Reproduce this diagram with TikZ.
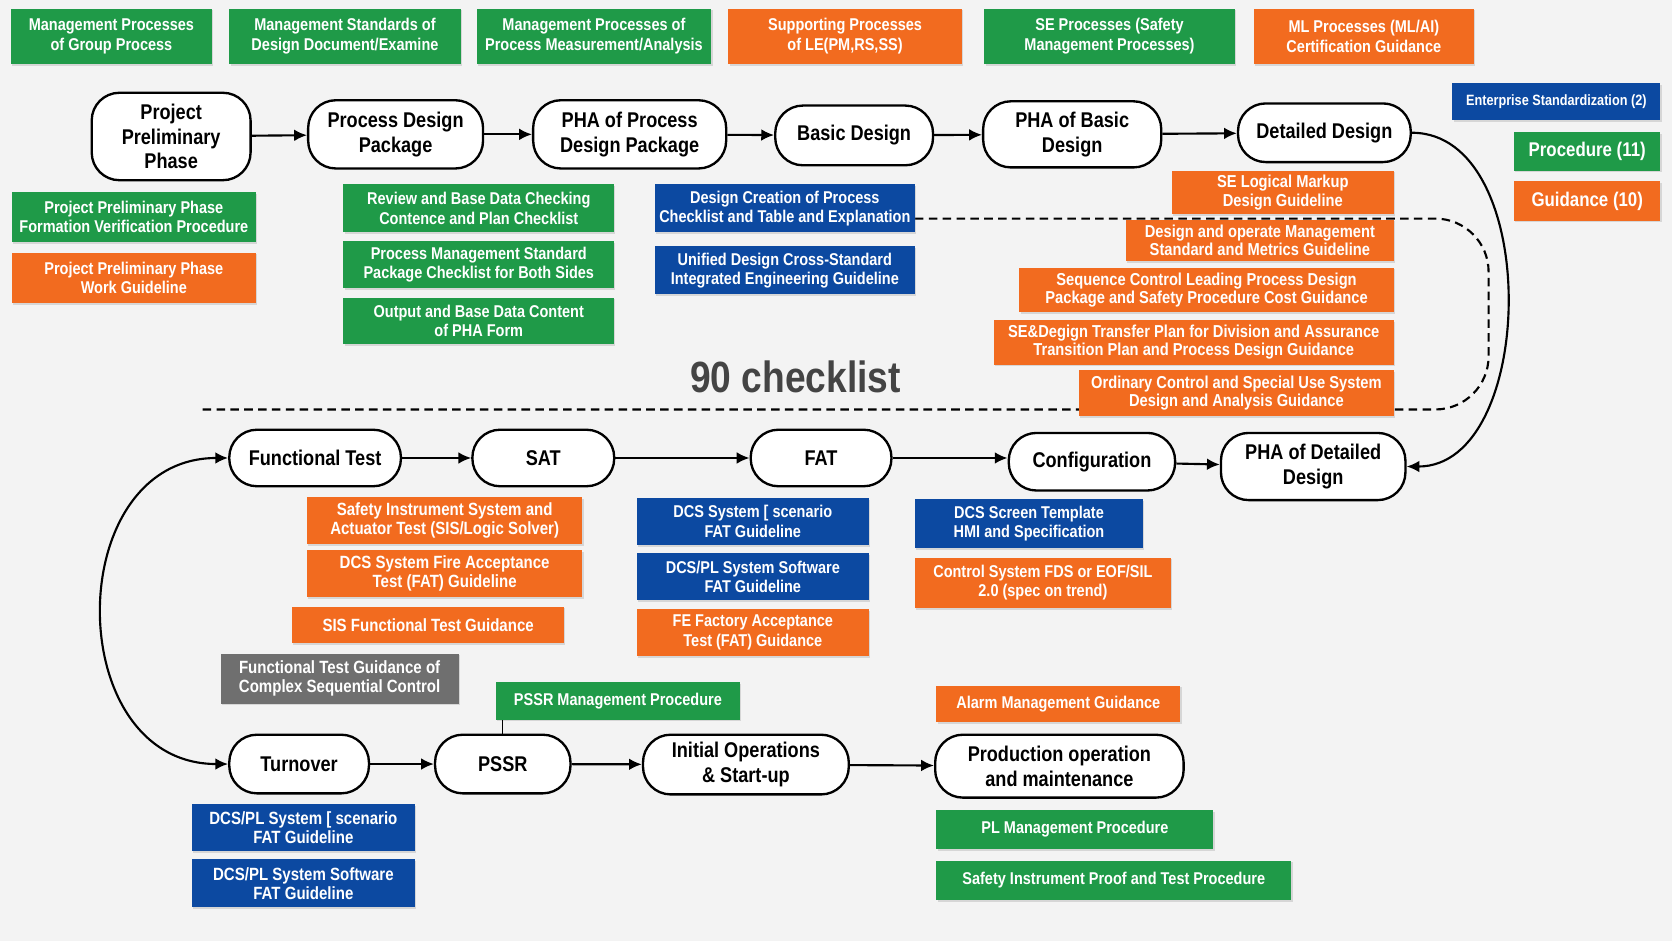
\documentclass[tikz,border=0pt]{standalone}
\usepackage{fontspec}
\setmainfont{Liberation Sans}[FakeStretch=0.85]
\usetikzlibrary{arrows.meta,shadows}
\definecolor{procgreen}{HTML}{1F9A48}
\definecolor{guideorange}{HTML}{F26B1F}
\definecolor{stdblue}{HTML}{0C49A1}
\definecolor{miscgray}{HTML}{6F6F6F}
\definecolor{paper}{HTML}{F3F3F3}
\definecolor{bigtext}{HTML}{444444}

\begin{document}
\begin{tikzpicture}[x=0.5pt,y=-0.5pt,>={Latex[length=6pt,width=5.5pt]},
    stage/.style={draw=black,line width=1.1pt,fill=white,rounded corners=13pt,align=center,
        inner sep=1pt,font=\fontsize{10}{11.5}\selectfont\bfseries},
    tag/.style={text=white,align=center,inner sep=1pt,font=\fontsize{8}{9}\selectfont\bfseries,
        drop shadow={opacity=.25,shadow xshift=.6pt,shadow yshift=-.8pt}},
    gtag/.style={tag,fill=procgreen},
    otag/.style={tag,fill=guideorange},
    btag/.style={tag,fill=stdblue},
    ytag/.style={tag,fill=miscgray},
    sz/.style 2 args={minimum width=#1*0.5pt,minimum height=#2*0.5pt},
    flow/.style={->,line width=1pt}]
\fill[paper] (0,0) rectangle (1568,882);
\useasboundingbox (0,0) rectangle (1568,882);

% dashed boundary of the checklist block
\coordinate (dashstart) at (858,205);
\coordinate (dashend) at (190,384);
\draw[line width=1pt,dash pattern=on 4pt off 2.5pt,rounded corners=25pt]
    (dashstart) -- (1396,205) -- (1396,384) -- (dashend);

% top row
\node[gtag,sz={189}{52},font=\fontsize{8}{9.5}\selectfont\bfseries] (topa) at (104.5,34) {Management Processes\\of Group Process};
\node[gtag,sz={217}{52},font=\fontsize{8}{9.5}\selectfont\bfseries] (topb) at (323.5,34) {Management Standards of\\Design Document/Examine};
\node[gtag,sz={220}{52},font=\fontsize{8}{9.5}\selectfont\bfseries] (topc) at (557,34) {Management Processes of\\Process Measurement/Analysis};
\node[otag,sz={219}{52},font=\fontsize{8}{9.5}\selectfont\bfseries] (topd) at (792.5,34) {Supporting Processes\\of LE(PM,RS,SS)};
\node[gtag,sz={235}{52},font=\fontsize{8}{9.5}\selectfont\bfseries] (tope) at (1040.5,34) {SE Processes (Safety\\Management Processes)};
\node[otag,sz={206}{52},font=\fontsize{8}{9.5}\selectfont\bfseries] (topf) at (1279,34) {ML Processes (ML/AI)\\Certification Guidance};

% legend
\node[btag,sz={195}{35},font=\fontsize{7}{8}\selectfont\bfseries] (legstd) at (1459.5,95.5) {Enterprise Standardization (2)};
\node[gtag,sz={137}{36},font=\fontsize{9.3}{10}\selectfont\bfseries] (legproc) at (1488.5,142) {Procedure (11)};
\node[otag,sz={137}{37},font=\fontsize{9.3}{10}\selectfont\bfseries] (legguide) at (1488.5,188.5) {Guidance (10)};

% design stages
\node[stage,sz={149}{82}] (ppp) at (160.5,128) {Project\\Preliminary\\Phase};
\node[stage,sz={164}{64}] (pdp) at (371,126) {Process Design\\Package};
\node[stage,sz={181}{64}] (phap) at (590.5,126) {PHA of Process\\Design Package};
\node[stage,sz={148}{56}] (basic) at (801,127) {Basic Design};
\node[stage,sz={167}{62}] (phab) at (1005.5,126) {PHA of Basic\\Design};
\node[stage,sz={162}{55}] (detail) at (1242,124.5) {Detailed Design};

\node[gtag,sz={229}{47}] (pppform) at (125.5,203.5) {Project Preliminary Phase\\Formation Verification Procedure};
\node[otag,sz={229}{47}] (pppwork) at (125.5,260.5) {Project Preliminary Phase\\Work Guideline};

\node[gtag,sz={254}{45}] (review) at (449,195.5) {Review and Base Data Checking\\Contence and Plan Checklist};
\node[gtag,sz={254}{44}] (pmstd) at (449,248) {Process Management Standard\\Package Checklist for Both Sides};
\node[gtag,sz={254}{44}] (output) at (449,301) {Output and Base Data Content\\of PHA Form};

\node[btag,sz={244}{45}] (creation) at (736,195.5) {Design Creation of Process\\Checklist and Table and Explanation};
\node[btag,sz={244}{45}] (unified) at (736,253.5) {Unified Design Cross-Standard\\Integrated Engineering Guideline};

\node[otag,sz={208}{41},font=\fontsize{8.1}{8.6}\selectfont\bfseries] (markup) at (1203,180.5) {SE Logical Markup\\Design Guideline};
\node[otag,sz={251}{39},font=\fontsize{8.1}{8.6}\selectfont\bfseries] (operate) at (1181.5,225.5) {Design and operate Management\\Standard and Metrics Guideline};
\node[otag,sz={351}{42},font=\fontsize{8.1}{8.6}\selectfont\bfseries] (sequence) at (1131.5,272) {Sequence Control Leading Process Design\\Package and Safety Procedure Cost Guidance};
\node[otag,sz={375}{42},font=\fontsize{8.1}{8.6}\selectfont\bfseries] (transfer) at (1119.5,321) {SE\&Degign Transfer Plan for Division and Assurance\\Transition Plan and Process Design Guidance};
\node[otag,sz={295}{43},font=\fontsize{8.1}{8.6}\selectfont\bfseries] (ordinary) at (1159.5,368.5) {Ordinary Control and Special Use System\\Design and Analysis Guidance};

\node[text=bigtext,font=\fontsize{20.5}{24}\selectfont\bfseries] (count) at (746,353) {90 checklist};

% test stages
\node[stage,sz={161}{53}] (functest) at (295.5,429.5) {Functional Test};
\node[stage,sz={133}{53}] (sat) at (509.5,429.5) {SAT};
\node[stage,sz={132}{53}] (fat) at (770,429.5) {FAT};
\node[stage,sz={156}{54}] (config) at (1024,433) {Configuration};
\node[stage,sz={173}{63}] (phad) at (1231.5,437.5) {PHA of Detailed\\Design};

\node[otag,sz={258}{44},font=\fontsize{8.3}{9}\selectfont\bfseries] (sisact) at (417,488) {Safety Instrument System and\\Actuator Test (SIS/Logic Solver)};
\node[otag,sz={258}{44},font=\fontsize{8.3}{9}\selectfont\bfseries] (dcsfire) at (417,538) {DCS System Fire Acceptance\\Test (FAT) Guideline};
\node[otag,sz={255}{34},font=\fontsize{8.3}{9}\selectfont\bfseries] (sisfunc) at (401.5,586) {SIS Functional Test Guidance};
\node[ytag,sz={223}{47},font=\fontsize{8.3}{9}\selectfont\bfseries] (complex) at (318.5,636.5) {Functional Test Guidance of\\Complex Sequential Control};

\node[btag,sz={218}{44}] (dcsscen) at (706,489) {DCS System [ scenario\\FAT Guideline};
\node[btag,sz={218}{44}] (dcssoft) at (706,541) {DCS/PL System Software\\FAT Guideline};
\node[otag,sz={218}{44}] (fefac) at (706,593) {FE Factory Acceptance\\Test (FAT) Guidance};

\node[btag,sz={214}{46}] (screen) at (965,491) {DCS Screen Template\\HMI and Specification};
\node[otag,sz={240}{47}] (fds) at (978,546.5) {Control System FDS or EOF/SIL\\2.0 (spec on trend)};

% operation stages
\node[stage,sz={131}{55}] (turnover) at (280.5,716.5) {Turnover};
\node[stage,sz={127}{55}] (pssr) at (471.5,716.5) {PSSR};
\node[stage,sz={193}{56}] (initial) at (699.5,717) {Initial Operations\\\& Start-up};
\node[stage,sz={233}{59}] (prod) at (993.5,718.5) {Production operation\\and maintenance};

\node[gtag,sz={229}{35}] (pssrproc) at (579.5,657.5) {PSSR Management Procedure};
\node[otag,sz={229}{34}] (alarm) at (992.5,660) {Alarm Management Guidance};
\node[gtag,sz={260}{36}] (plproc) at (1008,778) {PL Management Procedure};
\node[gtag,sz={333}{37}] (proof) at (1044.5,825.5) {Safety Instrument Proof and Test Procedure};
\node[btag,sz={209}{44},font=\fontsize{8.3}{9}\selectfont\bfseries] (plscen) at (284.5,776) {DCS/PL System [ scenario\\FAT Guideline};
\node[btag,sz={209}{45},font=\fontsize{8.3}{9}\selectfont\bfseries] (plsoft) at (284.5,828.5) {DCS/PL System Software\\FAT Guideline};

% flow
\draw[flow] (ppp) -- (pdp);
\draw[flow] (pdp) -- (phap);
\draw[flow] (phap) -- (basic);
\draw[flow] (basic) -- (phab);
\draw[flow] (phab) -- (detail);
\draw[flow] (detail.east) to[out=0,in=0,looseness=1] (phad.east);
\draw[flow] (functest) -- (sat);
\draw[flow] (sat) -- (fat);
\draw[flow] (fat.east) -- (fat.east -| config.west);
\draw[flow] (config) -- (phad);
\draw[flow,<->] (functest.west) to[out=180,in=180,looseness=1.4] (turnover.west);
\draw[flow] (turnover) -- (pssr);
\draw[flow] (pssr) -- (initial);
\draw[flow] (initial) -- (prod);
\draw[line width=.5pt] (pssr.north) -- (pssr.north |- pssrproc.south);
\end{tikzpicture}
\end{document}
